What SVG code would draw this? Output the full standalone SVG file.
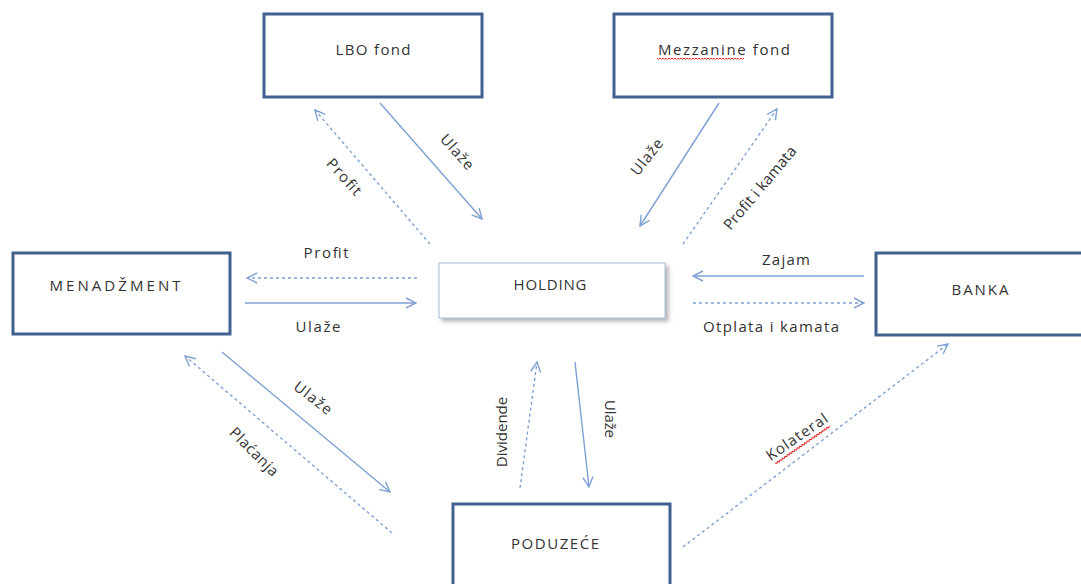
<svg xmlns="http://www.w3.org/2000/svg" width="1081" height="584" viewBox="0 0 1081 584">
<style>
.box{fill:#fff;stroke:#41618f;stroke-width:3}
.hold{fill:#fff;stroke:#a9bcd8;stroke-width:1}
.t{font-family:"Open Sans","Liberation Sans",sans-serif;font-size:15px;fill:#333;text-anchor:middle}
.s{fill:none;stroke:#7ea1d3;stroke-width:1.4}
.d{fill:none;stroke:#7ea1d3;stroke-width:1.4;stroke-dasharray:3 3}
.sq{fill:none;stroke:#e03030;stroke-width:1}
</style>
<defs>
<marker id="ah" viewBox="0 0 12 12" refX="11" refY="6" markerWidth="12" markerHeight="12" orient="auto" markerUnits="userSpaceOnUse">
<path d="M1,1 L11,6 L1,11" fill="none" stroke="#7ea1d3" stroke-width="1.4"/>
</marker>
<filter id="sh" x="-10%" y="-20%" width="130%" height="150%">
<feDropShadow dx="3" dy="3" stdDeviation="2" flood-color="#808080" flood-opacity="0.6"/>
</filter>
</defs>
<rect width="1081" height="584" fill="#fff"/>

<g id="lbo">
<rect class="box" x="264" y="14" width="218" height="83"/>
<text class="t" x="373" y="55" textLength="75" lengthAdjust="spacing">LBO fond</text>
</g>
<g id="mezzanine">
<rect class="box" x="614" y="14" width="218" height="83"/>
<text class="t" x="724" y="55" textLength="132" lengthAdjust="spacing">Mezzanine  fond</text>
<path class="sq" d="M657,58 l1.5,1.5 l1.5,-1.5 l1.5,1.5 l1.5,-1.5 l1.5,1.5 l1.5,-1.5 l1.5,1.5 l1.5,-1.5 l1.5,1.5 l1.5,-1.5 l1.5,1.5 l1.5,-1.5 l1.5,1.5 l1.5,-1.5 l1.5,1.5 l1.5,-1.5 l1.5,1.5 l1.5,-1.5 l1.5,1.5 l1.5,-1.5 l1.5,1.5 l1.5,-1.5 l1.5,1.5 l1.5,-1.5 l1.5,1.5 l1.5,-1.5 l1.5,1.5 l1.5,-1.5 l1.5,1.5 l1.5,-1.5 l1.5,1.5 l1.5,-1.5 l1.5,1.5 l1.5,-1.5 l1.5,1.5 l1.5,-1.5 l1.5,1.5 l1.5,-1.5 l1.5,1.5 l1.5,-1.5 l1.5,1.5 l1.5,-1.5 l1.5,1.5 l1.5,-1.5 l1.5,1.5 l1.5,-1.5 l1.5,1.5 l1.5,-1.5 l1.5,1.5 l1.5,-1.5 l1.5,1.5 l1.5,-1.5 l1.5,1.5 l1.5,-1.5 l1.5,1.5 l1.5,-1.5 l1.5,1.5 l1.5,-1.5"/>
</g>
<g id="menadzment">
<rect class="box" x="13" y="253" width="217" height="81"/>
<text class="t" x="115" y="291" textLength="131" lengthAdjust="spacing">MENADŽMENT</text>
</g>
<g id="holding">
<rect class="hold" x="439" y="263" width="226" height="55" filter="url(#sh)"/>
<text class="t" x="550" y="290" textLength="73" lengthAdjust="spacing">HOLDING</text>
</g>
<g id="banka">
<rect class="box" x="876" y="253" width="215" height="82"/>
<text class="t" x="980" y="295" textLength="57" lengthAdjust="spacing">BANKA</text>
</g>
<g id="poduzece">
<rect class="box" x="453" y="504" width="217" height="90"/>
<text class="t" x="555" y="549" textLength="88" lengthAdjust="spacing">PODUZEĆE</text>
</g>

<g id="connectors">
<line class="s" x1="380" y1="103" x2="482" y2="219" marker-end="url(#ah)"/>
<line class="d" x1="430" y1="244" x2="315" y2="110" marker-end="url(#ah)"/>
<line class="s" x1="719" y1="103" x2="640" y2="226" marker-end="url(#ah)"/>
<line class="d" x1="683" y1="244" x2="777" y2="109" marker-end="url(#ah)"/>
<line class="d" x1="417" y1="278" x2="247" y2="278" marker-end="url(#ah)"/>
<line class="s" x1="245" y1="303" x2="416" y2="303" marker-end="url(#ah)"/>
<line class="s" x1="864" y1="276" x2="693" y2="276" marker-end="url(#ah)"/>
<line class="d" x1="693" y1="303" x2="864" y2="303" marker-end="url(#ah)"/>
<line class="s" x1="222" y1="352" x2="390" y2="492" marker-end="url(#ah)"/>
<line class="d" x1="392" y1="533" x2="185" y2="356" marker-end="url(#ah)"/>
<line class="d" x1="520" y1="488" x2="537" y2="362" marker-end="url(#ah)"/>
<line class="s" x1="575" y1="362" x2="589" y2="487" marker-end="url(#ah)"/>
<line class="d" x1="683" y1="547" x2="948" y2="344" marker-end="url(#ah)"/>

<text class="t" transform="translate(457,152) rotate(48)" y="5" textLength="42" lengthAdjust="spacing">Ulaže</text>
<text class="t" transform="translate(344,177) rotate(48)" y="5" textLength="44" lengthAdjust="spacing">Profit</text>
<text class="t" transform="translate(647,157) rotate(-52)" y="5" textLength="42" lengthAdjust="spacing">Ulaže</text>
<text class="t" transform="translate(760,188) rotate(-50)" y="5" textLength="104" lengthAdjust="spacing">Profit i kamata</text>
<text class="t" x="326" y="258" textLength="45" lengthAdjust="spacing">Profit</text>
<text class="t" x="318" y="332" textLength="45" lengthAdjust="spacing">Ulaže</text>
<text class="t" x="786" y="265" textLength="48" lengthAdjust="spacing">Zajam</text>
<text class="t" x="771" y="332" textLength="136" lengthAdjust="spacing">Otplata i kamata</text>
<text class="t" transform="translate(313,398) rotate(38)" y="5" textLength="44" lengthAdjust="spacing">Ulaže</text>
<text class="t" transform="translate(254,452) rotate(45)" y="5" textLength="62" lengthAdjust="spacing">Plaćanja</text>
<text class="t" transform="translate(502,432) rotate(-90)" y="5">Dividende</text>
<text class="t" transform="translate(610,419) rotate(90)" y="5" textLength="38" lengthAdjust="spacing">Ulaže</text>
<g transform="translate(797,437) rotate(-34.5)">
<text class="t" y="5" textLength="71" lengthAdjust="spacing">Kolateral</text>
<path class="sq" d="M-33,9 l1.5,1.5 l1.5,-1.5 l1.5,1.5 l1.5,-1.5 l1.5,1.5 l1.5,-1.5 l1.5,1.5 l1.5,-1.5 l1.5,1.5 l1.5,-1.5 l1.5,1.5 l1.5,-1.5 l1.5,1.5 l1.5,-1.5 l1.5,1.5 l1.5,-1.5 l1.5,1.5 l1.5,-1.5 l1.5,1.5 l1.5,-1.5 l1.5,1.5 l1.5,-1.5 l1.5,1.5 l1.5,-1.5 l1.5,1.5 l1.5,-1.5 l1.5,1.5 l1.5,-1.5 l1.5,1.5 l1.5,-1.5 l1.5,1.5 l1.5,-1.5 l1.5,1.5 l1.5,-1.5 l1.5,1.5 l1.5,-1.5 l1.5,1.5 l1.5,-1.5 l1.5,1.5 l1.5,-1.5 l1.5,1.5 l1.5,-1.5 l1.5,1.5 l1.5,-1.5"/>
</g>
</g>
</svg>
